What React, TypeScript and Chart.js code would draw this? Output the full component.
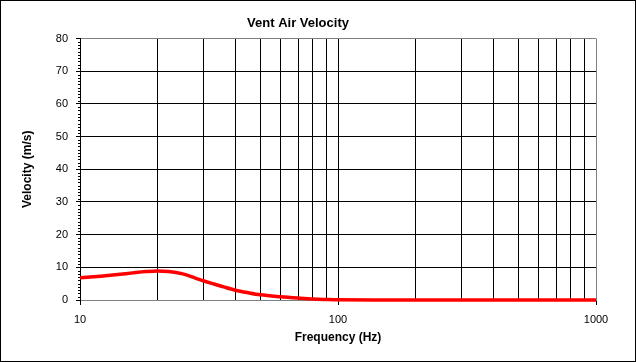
import React, { useEffect, useRef } from "react";
import { Chart, registerables } from "chart.js";

Chart.register(...registerables);

const chartTitle = "Vent Air Velocity";
const xAxisTitle = "Frequency (Hz)";
const yAxisTitle = "Velocity (m/s)";

const frequencies = [10, 12, 14, 16, 18, 20, 22, 25, 28, 30, 33, 36, 40, 45, 50, 60, 70, 80, 90, 100, 150, 200, 300, 500, 700, 1000];
const velocities = [6.8, 7.3, 7.8, 8.3, 8.7, 8.9, 8.75, 8.0, 6.7, 5.9, 4.9, 4.0, 3.0, 2.2, 1.6, 1.0, 0.6, 0.3, 0.15, 0.05, 0, 0, 0, 0, 0, 0];

const xTickValues = [10, 20, 30, 40, 50, 60, 70, 80, 90, 100, 200, 300, 400, 500, 600, 700, 800, 900, 1000];

const xMin = 10;
const xMax = 1000;
const yMin = 0;
const yMax = 80;
const yMajorStep = 10;
const yMinorStep = 1;

const FONT = "'Liberation Sans', Arial, sans-serif";
const GRAY = "#808080";

const isPow10 = (v: number) => {
  const l = Math.log10(v);
  return Math.abs(l - Math.round(l)) < 1e-9;
};

const frameAndMinorTicks = {
  id: "frameAndMinorTicks",
  afterDraw(chart: any) {
    const ctx = chart.ctx;
    const y = chart.scales.y;
    const left = chart.chartArea.left;
    ctx.save();
    ctx.strokeStyle = "#000";
    ctx.lineWidth = 1;
    ctx.beginPath();
    for (let v = yMin; v <= yMax; v += yMinorStep) {
      if (v % yMajorStep === 0) continue;
      const py = Math.round(y.getPixelForValue(v)) + 0.5;
      ctx.moveTo(left - 2, py);
      ctx.lineTo(left, py);
    }
    ctx.stroke();
    ctx.strokeRect(0.5, 0.5, chart.width - 1, chart.height - 1);
    ctx.restore();
  },
};

export default function App() {
  const canvasRef = useRef<HTMLCanvasElement | null>(null);

  useEffect(() => {
    document.body.style.margin = "0";
    const canvas = canvasRef.current!;
    const chart = new Chart(canvas, {
      type: "line",
      data: {
        datasets: [
          {
            label: "Velocity",
            data: frequencies.map((f, i) => ({ x: f, y: velocities[i] })),
            borderColor: "#FF0000",
            backgroundColor: "#FF0000",
            borderWidth: 3.5,
            pointRadius: 0,
            cubicInterpolationMode: "monotone",
            clip: 5,
          } as any,
        ],
      },
      options: {
        responsive: false,
        animation: false,
        events: [],
        layout: { padding: { left: 0, right: 40, top: 0, bottom: 0 } },
        plugins: {
          legend: { display: false },
          tooltip: { enabled: false },
          title: {
            display: true,
            text: chartTitle,
            color: "#000",
            font: { family: FONT, size: 13, weight: "bold" },
            padding: { top: 16, bottom: 7 },
          },
        },
        scales: {
          x: {
            type: "logarithmic",
            min: xMin,
            max: xMax,
            afterBuildTicks: (s: any) => {
              s.ticks = xTickValues.map((v) => ({ value: v, major: isPow10(v) }));
            },
            afterFit: (s: any) => {
              s.height = 62;
            },
            border: { display: true, color: GRAY, width: 1 },
            grid: {
              color: (c: any) => (c.tick && c.tick.value === xMax ? GRAY : "#000"),
              tickColor: (c: any) => (c.tick && isPow10(c.tick.value) ? "#000" : "rgba(0,0,0,0)"),
              tickLength: 5,
              lineWidth: 1,
            },
            ticks: {
              autoSkip: false,
              maxRotation: 0,
              padding: 8,
              color: "#000",
              font: { family: FONT, size: 11 },
              callback: (v: any) => (isPow10(Number(v)) ? String(Number(v)) : ""),
            },
            title: {
              display: true,
              text: xAxisTitle,
              color: "#000",
              font: { family: FONT, size: 12, weight: "bold" },
              padding: { top: 0, bottom: 17 },
            },
          },
          y: {
            type: "linear",
            min: yMin,
            max: yMax,
            afterFit: (s: any) => {
              s.width = 80;
            },
            border: { display: true, color: "#000", width: 1 },
            grid: {
              color: (c: any) =>
                c.tick && (c.tick.value === yMin || c.tick.value === yMax) ? GRAY : "#000",
              tickColor: "#000",
              tickLength: 4,
              lineWidth: 1,
            },
            ticks: {
              stepSize: yMajorStep,
              padding: 8,
              color: "#000",
              font: { family: FONT, size: 11 },
            },
            title: {
              display: true,
              text: yAxisTitle,
              color: "#000",
              font: { family: FONT, size: 12, weight: "bold" },
              padding: { top: 20, bottom: 0 },
            },
          },
        },
      } as any,
      plugins: [frameAndMinorTicks],
    });
    return () => chart.destroy();
  }, []);

  return (
    <div style={{ position: "absolute", left: 0, top: 0, width: 636, height: 362, background: "#fff" }}>
      <canvas ref={canvasRef} width={636} height={362} style={{ display: "block", width: 636, height: 362 }} />
    </div>
  );
}
